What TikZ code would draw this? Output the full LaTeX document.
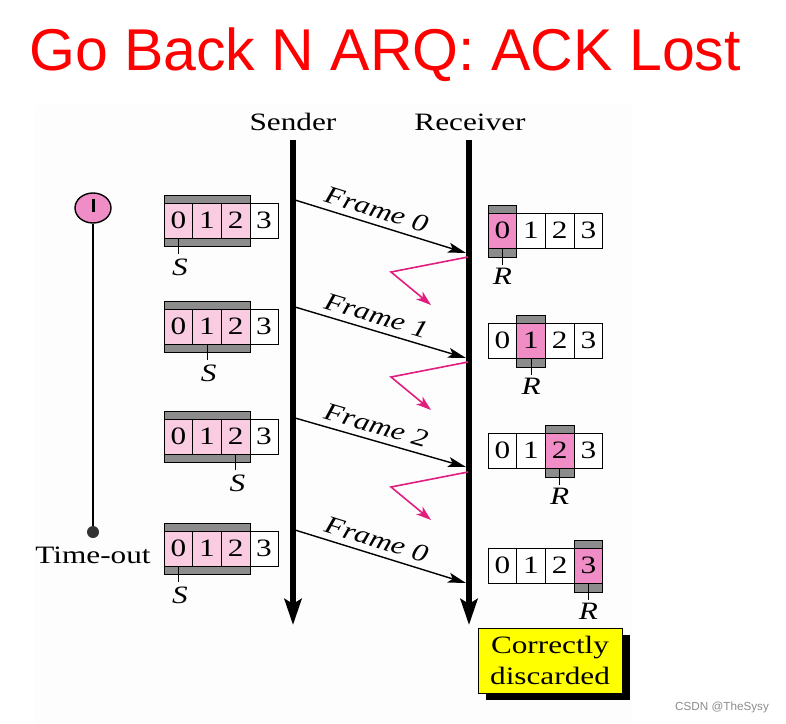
\documentclass[tikz,border=0pt]{standalone}
\usepackage{fontspec}
\setmainfont{Liberation Serif}[FakeStretch=1.25]
\newfontfamily\titlefont{Liberation Sans}
\usetikzlibrary{arrows.meta,shapes.geometric,shadows}

\definecolor{panel}{RGB}{253,253,253}
\definecolor{winpink}{RGB}{249,204,226}
\definecolor{hotpink}{RGB}{240,140,198}
\definecolor{bargray}{RGB}{140,140,140}
\definecolor{ackpink}{RGB}{225,30,128}
\definecolor{notegold}{RGB}{255,255,0}

\tikzset{
  lbl/.style={font=\fontsize{25}{31}\selectfont, inner sep=0pt},
  ptr/.style={lbl, font=\fontsize{25}{31}\selectfont\itshape},
  lifeline/.style={line width=5.5pt, -{Stealth[length=26pt,width=17pt,inset=5pt]}},
  frame/.style={line width=1.4pt, -{Stealth[length=18pt,width=10pt,inset=4pt]}},
  ack/.style={draw=ackpink, line width=1.6pt, -{Stealth[length=15pt,width=10pt,inset=4pt]}},
  cell/.style={draw, line width=1pt}
}

\begin{document}
\begin{tikzpicture}[x=1pt, y=-1pt]
      \useasboundingbox (0,0) rectangle (786,723);
      \fill[panel] (35,105) rectangle (632,723);

      % Title
      \node (title) [anchor=base, text=red, inner sep=0pt,
        font=\titlefont\fontsize{59}{60}\selectfont] at (385,70) {Go Back N ARQ: ACK Lost};

      % Sender and receiver time lines
      \node (sender) [lbl, anchor=base] at (293,130) {Sender};
      \node (receiver) [lbl, anchor=base] at (470,130) {Receiver};
      \coordinate (sndtop) at (293,140);
      \coordinate (sndbot) at (293,625);
      \coordinate (rcvtop) at (469,140);
      \coordinate (rcvbot) at (469,625);
      \draw[lifeline] (sndtop) -- (sndbot);
      \draw[lifeline] (rcvtop) -- (rcvbot);

      % Timer
      \node (clock) [draw, ellipse, fill=hotpink, line width=1.4pt, inner sep=0pt,
        minimum width=36pt, minimum height=30pt] at (93,208) {};
      \draw[line width=3pt] ([yshift=9pt]clock.center) -- ([yshift=-4pt]clock.center);
      \node (tmo) [circle, fill=black!80, inner sep=0pt, minimum size=12pt] at (93,532) {};
      \draw[line width=1.6pt] (clock.south) -- (tmo);
      \node (timeout) [lbl, anchor=base] at (93,563) {Time-out};

      % Sender windows
      \foreach \ty/\k [count=\r] in {203/0, 309/1, 419/2, 531/0} {
          \draw[cell, fill=bargray] (164,\ty-8) rectangle (250,\ty+43);
          \foreach \i in {0,1,2} {
              \draw[cell, fill=winpink] ({164+28.7*\i},\ty) rectangle ++(28.7,35);
              \node (s\r-\i) [lbl] at ({178.35+28.7*\i},\ty+17.5) {\i};
          }
          \draw[cell, fill=white] (250,\ty) rectangle ++(28,35);
          \node (s\r-3) [lbl] at (264,\ty+17.5) {3};
          \draw[line width=1pt] ({178.35+28.7*\k},\ty+35) -- ++(0,16);
          \node (S\r) [ptr] at ({180+28.7*\k},\ty+64) {S};
      }

      % Receiver windows
      \foreach \ty/\k [count=\r] in {213/0, 323/1, 433/2, 548/3} {
          \draw[cell, fill=bargray] ({488+28.7*\k},\ty-8) rectangle ++(28.7,52);
          \foreach \i in {0,...,3} {
              \draw[cell, fill=white] ({488+28.7*\i},\ty) rectangle ++(28.7,35);
          }
          \draw[cell, fill=hotpink] ({488+28.7*\k},\ty) rectangle ++(28.7,35);
          \foreach \i in {0,...,3} {
              \node (r\r-\i) [lbl] at ({502.35+28.7*\i},\ty+17.5) {\i};
          }
          \draw[line width=1pt] ({502.35+28.7*\k},\ty+35) -- ++(0,17);
          \node (R\r) [ptr] at ({502.35+28.7*\k},\ty+63) {R};
      }

      % Frames
      \foreach \ys/\ye/\n [count=\r] in {200/253/0, 307/358/1, 418/467/2, 530/583/0} {
          \coordinate (f\r) at (295,\ys);
          \coordinate (g\r) at (466,\ye);
          \draw[frame] (f\r) -- node[ptr, sloped, above=6pt, pos=0.45] {Frame \n} (g\r);
      }

      % Lost acknowledgements
      \foreach \ya [count=\r] in {257, 362, 472} {
          \coordinate (a\r) at (468,\ya);
          \draw[ack] (a\r) -- ++(-77,15) -- ++(40,33);
      }

      % Note
      \node (note) [draw, fill=notegold, line width=1pt, lbl, align=center,
        minimum width=144pt, minimum height=65pt,
        drop shadow={shadow xshift=8pt, shadow yshift=-7pt, fill=black, opacity=1}]
        at (550,660.5) {Correctly\\discarded};

      \node (mark) [text=black!45, inner sep=0pt,
        font=\titlefont\fontsize{11.7}{14}\selectfont] at (722,707) {CSDN @TheSysy};
\end{tikzpicture}
\end{document}
